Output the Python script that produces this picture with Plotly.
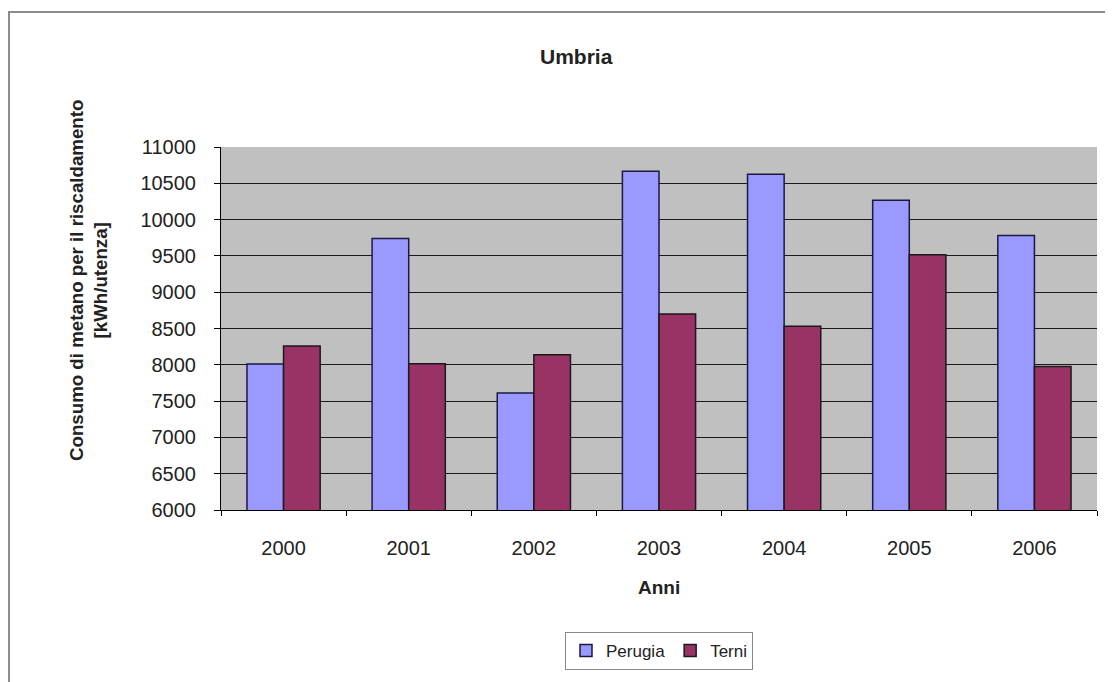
import plotly.graph_objects as go

# data
years = ["2000", "2001", "2002", "2003", "2004", "2005", "2006"]
perugia = [8010, 9740, 7610, 10665, 10625, 10265, 9780]
terni = [8260, 8015, 8140, 8700, 8530, 9515, 7975]

# page body has an 8px margin, so the figure is drawn 8px in
OFF = 8
W, H = 1113 - OFF, 682 - OFF
L, T = 221 - OFF, 147 - OFF
pw, ph = 876, 363
R = W - L - pw
B = H - T - ph

FONT = "Liberation Sans, Arial, sans-serif"


def px_x(x):
    return (x - OFF - L) / pw


def px_y(y):
    return (T + ph - (y - OFF)) / ph


fig = go.Figure()
fig.add_trace(go.Bar(
    name="Perugia", x=years, y=perugia,
    marker=dict(color="#9999FF", line=dict(color="#1a1a40", width=1.5)),
))
fig.add_trace(go.Bar(
    name="Terni", x=years, y=terni,
    marker=dict(color="#993366", line=dict(color="#1a1a1a", width=1.5)),
))

fig.update_layout(
    width=W, height=H,
    margin=dict(l=L, r=R, t=T, b=B),
    paper_bgcolor="white",
    plot_bgcolor="#C0C0C0",
    font=dict(family=FONT, color="#222222"),
    barmode="group",
    bargap=0.415,
    bargroupgap=0,
    showlegend=True,
    legend=dict(
        orientation="h", x=0.5, xanchor="center",
        y=px_y(651), yanchor="middle",
        bordercolor="#888888", borderwidth=1,
        font=dict(size=17, color="#222222"),
        itemwidth=30,
    ),
    annotations=[
        dict(text="<b>Umbria</b>", xref="paper", yref="paper",
             x=px_x(576), y=px_y(57), xanchor="center", yanchor="middle",
             showarrow=False, font=dict(size=21, color="#222222")),
        dict(text="<b>Consumo di metano per il riscaldamento<br>[kWh/utenza]</b>",
             xref="paper", yref="paper",
             x=px_x(88), y=px_y(281), xanchor="center", yanchor="middle",
             textangle=-90, showarrow=False,
             font=dict(size=18.7, color="#222222")),
        dict(text="<b>Anni</b>", xref="paper", yref="paper",
             x=px_x(659), y=px_y(587), xanchor="center", yanchor="middle",
             showarrow=False, font=dict(size=19, color="#222222")),
    ],
    shapes=[
        dict(type="rect", xref="paper", yref="paper",
             x0=px_x(9), x1=px_x(1140),
             y0=px_y(720), y1=px_y(12),
             line=dict(color="#8c8c8c", width=2), layer="below"),
    ],
)

fig.update_xaxes(
    type="category",
    showline=True, linecolor="black", linewidth=1,
    ticks="outside", tickson="boundaries", ticklen=5, tickcolor="black",
    tickfont=dict(size=20, color="#222222"),
    ticklabelstandoff=20,
    showgrid=False,
)
fig.update_yaxes(
    range=[6000, 11000], dtick=500, tickformat="d",
    showline=True, linecolor="black", linewidth=1,
    ticks="outside", ticklen=6, tickcolor="black",
    tickfont=dict(size=20, color="#222222"),
    ticklabelstandoff=14,
    showgrid=True, gridcolor="#1a1a1a", gridwidth=1,
    zeroline=False,
)

fig.write_html("out.html")
